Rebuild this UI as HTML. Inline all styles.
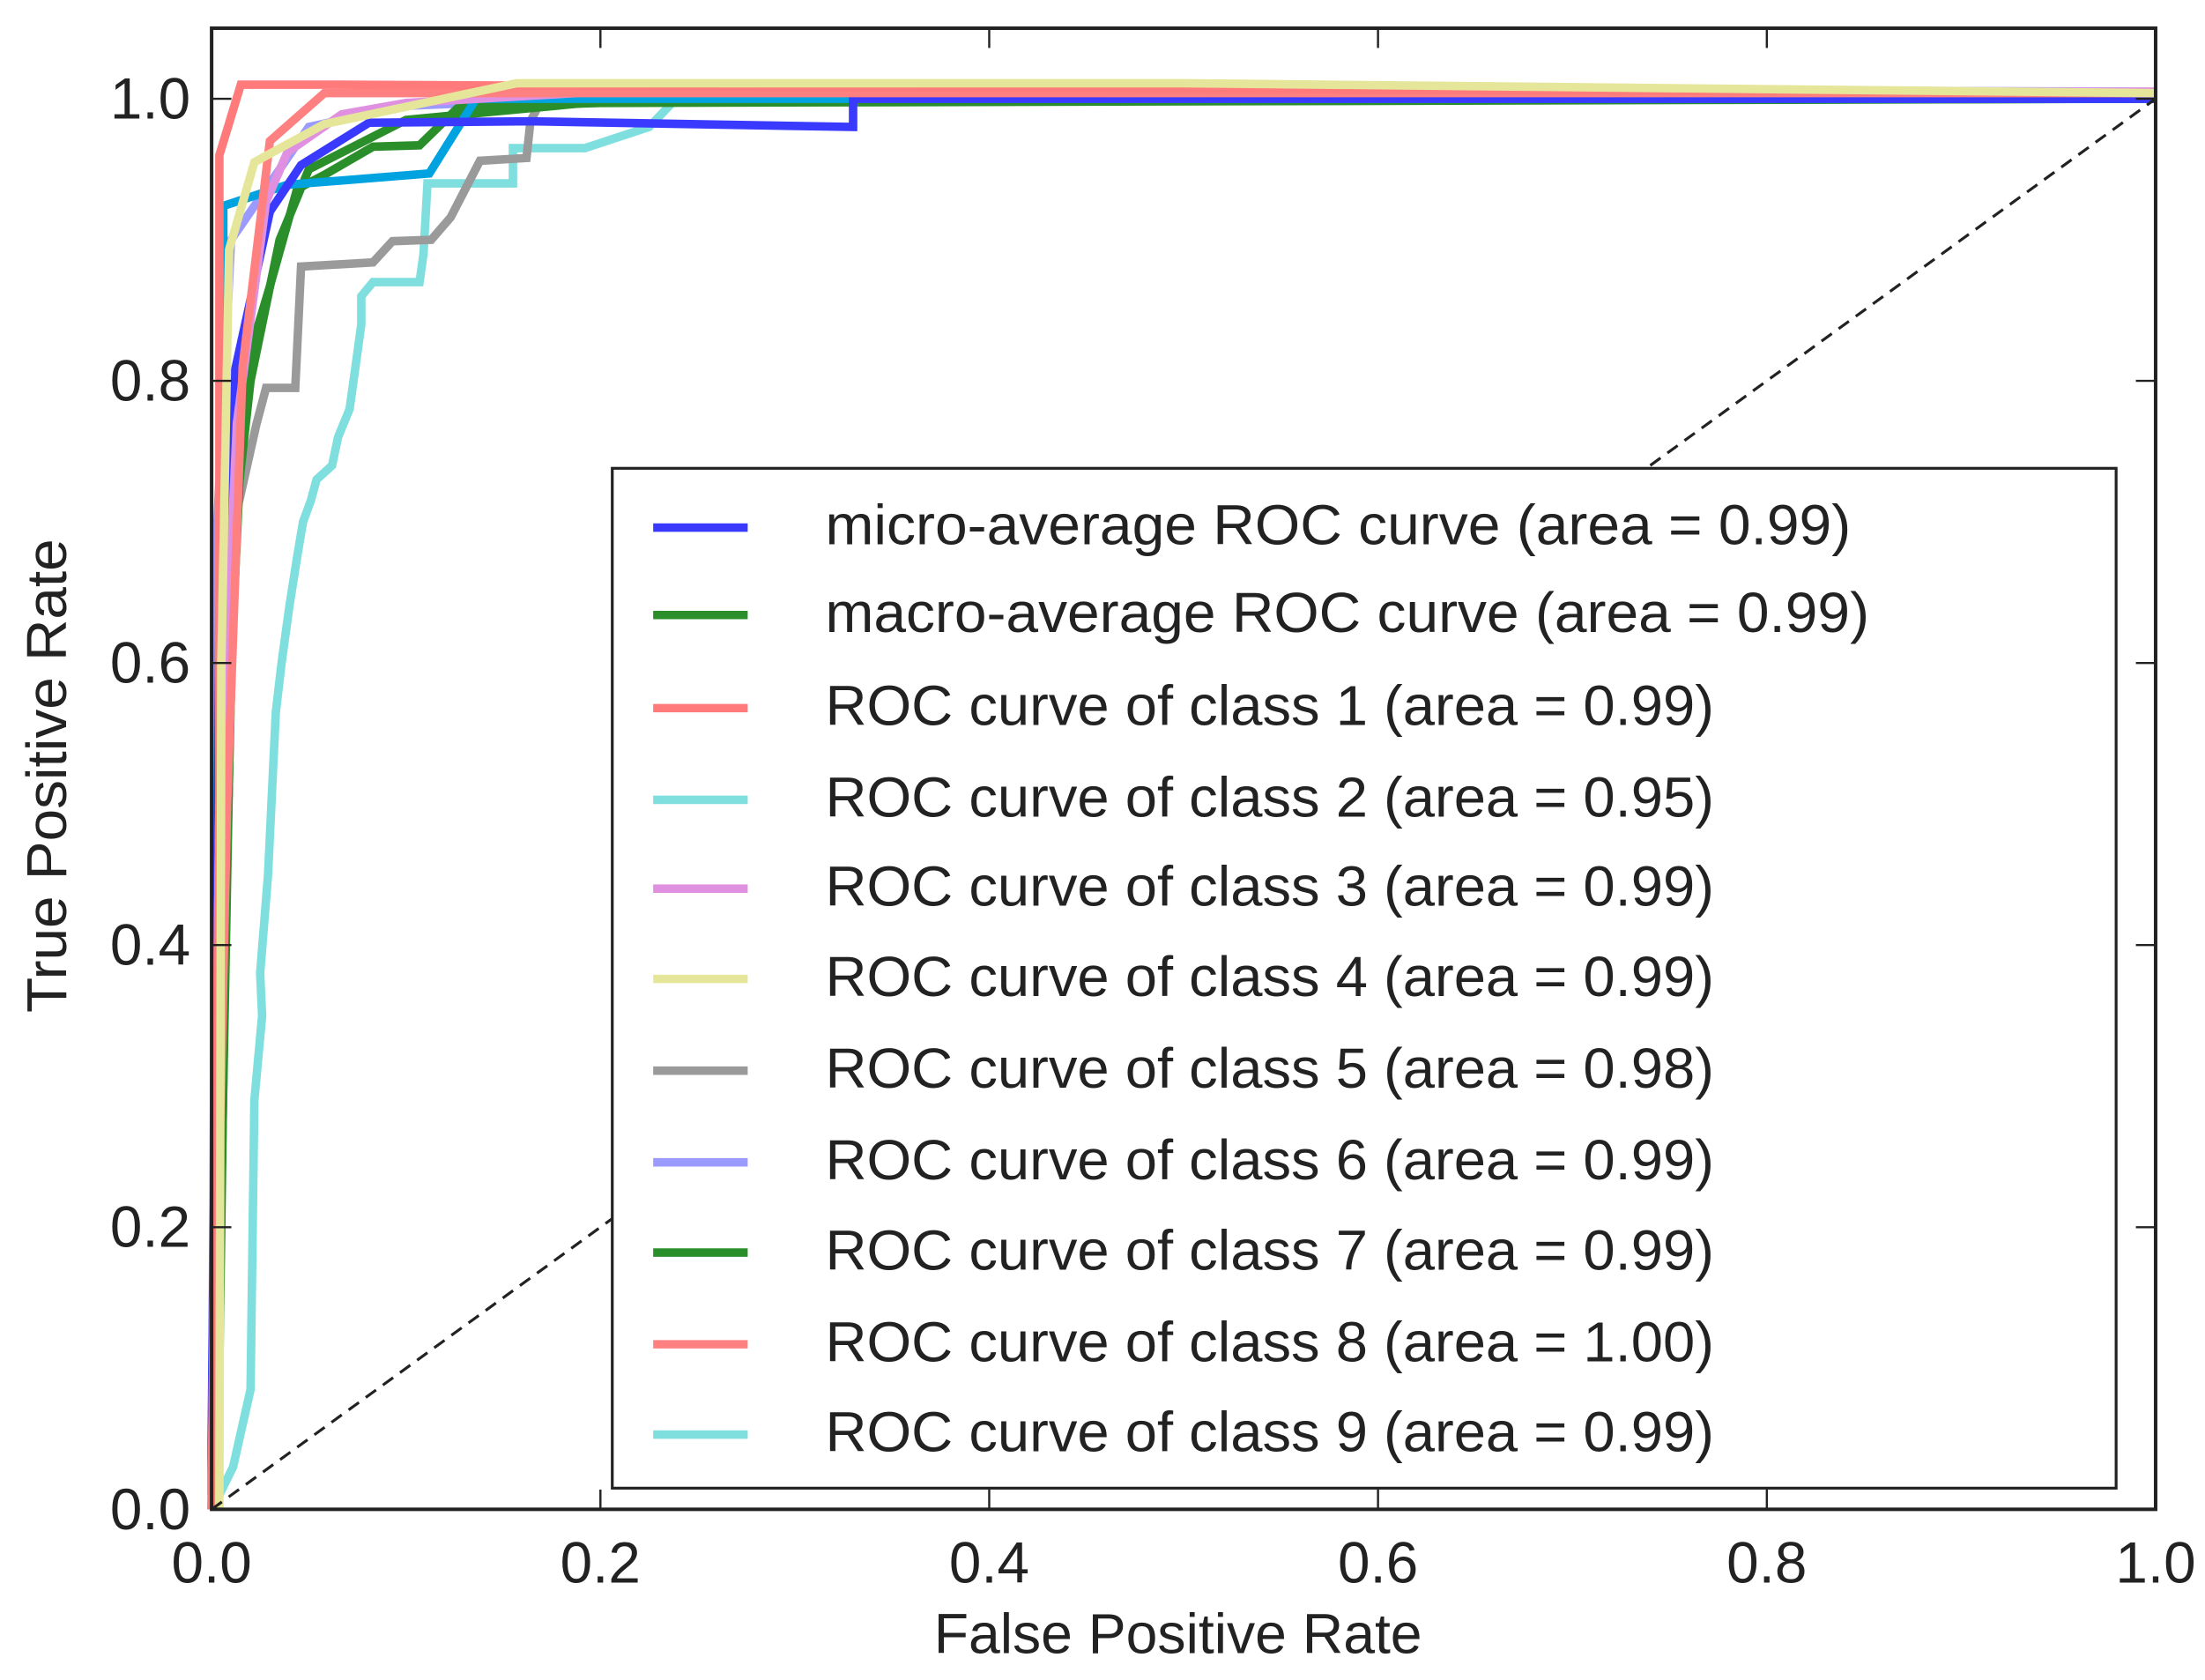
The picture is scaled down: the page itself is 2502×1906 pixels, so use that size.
<!DOCTYPE html>
<html><head><meta charset="utf-8">
<style>
html,body{margin:0;padding:0;background:#fff;}
svg{display:block;}
text{font-family:"Liberation Sans",sans-serif;fill:#222;}
</style></head>
<body>
<svg id="chart" width="2502" height="1906" viewBox="0 0 1563 1191" preserveAspectRatio="none" xmlns="http://www.w3.org/2000/svg">
<rect x="0" y="0" width="1563" height="1191" fill="#fff"/>
<g id="curves"></g>
<line id="diag" stroke="#222" stroke-width="2" stroke-dasharray="9,6"/>
<g id="axes"></g>
<g id="legend"></g>
<text x="835" y="1172" font-size="40" text-anchor="middle" textLength="346" lengthAdjust="spacingAndGlyphs">False Positive Rate</text>
<text x="0" y="0" font-size="40" text-anchor="middle" textLength="336" lengthAdjust="spacingAndGlyphs" transform="translate(47,550) rotate(-90)">True Positive Rate</text>
</svg>
<script>
const xTicks = [0.0, 0.2, 0.4, 0.6, 0.8, 1.0];
const yTicks = [0.0, 0.2, 0.4, 0.6, 0.8, 1.0];
const tickLabels = ["0.0", "0.2", "0.4", "0.6", "0.8", "1.0"];

const microX = [0, 0.0, 0.004, 0.012, 0.03, 0.046, 0.081, 0.164, 0.33, 0.33, 1];
const microY = [0.01, 0.05, 0.6, 0.807, 0.92, 0.953, 0.983, 0.984, 0.98, 1.0, 1.0];
const macroX = [0.002, 0.006, 0.01, 0.017, 0.03, 0.044, 0.058, 0.083, 0.107, 0.127, 0.2, 1];
const macroY = [0.0, 0.3, 0.6, 0.807, 0.867, 0.936, 0.946, 0.966, 0.967, 0.994, 0.997, 1.0];
const c1X = [0, 0.004, 0.004, 0.015, 0.06, 1];
const c1Y = [0, 0.5, 0.96, 1.01, 1.01, 1.004];
const c2X = [0.001, 0.011, 0.02, 0.022, 0.026, 0.025, 0.029, 0.033, 0.036, 0.04, 0.044, 0.047, 0.051, 0.054, 0.062, 0.065, 0.071, 0.073, 0.077, 0.077, 0.083, 0.107, 0.109, 0.111, 0.155, 0.155, 0.192, 0.225, 0.239, 1];
const c2Y = [0.002, 0.03, 0.085, 0.29, 0.35, 0.38, 0.45, 0.565, 0.6, 0.64, 0.675, 0.7, 0.715, 0.73, 0.74, 0.76, 0.78, 0.8, 0.84, 0.86, 0.87, 0.87, 0.89, 0.94, 0.94, 0.965, 0.965, 0.98, 1.0, 1.004];
const c3X = [0, 0.004, 0.013, 0.028, 0.039, 0.067, 0.1, 0.2, 1];
const c3Y = [0, 0.5, 0.77, 0.927, 0.962, 0.989, 0.997, 1.005, 1.005];
const c4X = [0.004, 0.005, 0.009, 0.022, 0.058, 0.157, 0.5, 1];
const c4Y = [0.0, 0.6, 0.893, 0.955, 0.982, 1.011, 1.011, 1.004];
const c5X = [0.003, 0.005, 0.015, 0.023, 0.028, 0.043, 0.046, 0.083, 0.093, 0.113, 0.123, 0.138, 0.162, 0.164, 0.17, 1];
const c5Y = [0.0, 0.66, 0.72, 0.769, 0.795, 0.795, 0.881, 0.884, 0.899, 0.9, 0.916, 0.956, 0.958, 0.984, 1.0, 1.0];
const c6X = [0, 0.003, 0.01, 0.05, 0.1, 0.33, 1];
const c6Y = [0, 0.7, 0.9, 0.98, 0.995, 1.008, 1.005];
const c7X = [0.003, 0.007, 0.012, 0.02, 0.035, 0.05, 0.1, 0.2, 1];
const c7Y = [0.0, 0.4, 0.7, 0.8, 0.9, 0.95, 0.985, 0.998, 1.0];
const c8X = [0, 0.008, 0.016, 0.03, 0.058, 1];
const c8Y = [0, 0.5, 0.81, 0.97, 1.004, 1.004];
const c9X = [0, 0.003, 0.006, 0.006, 0.039, 0.112, 0.136, 1];
const c9Y = [0, 0.5, 0.9, 0.924, 0.939, 0.947, 1.0, 1.0];

const legendLabels = [
 "micro-average ROC curve (area = 0.99)",
 "macro-average ROC curve (area = 0.99)",
 "ROC curve of class 1 (area = 0.99)",
 "ROC curve of class 2 (area = 0.95)",
 "ROC curve of class 3 (area = 0.99)",
 "ROC curve of class 4 (area = 0.99)",
 "ROC curve of class 5 (area = 0.98)",
 "ROC curve of class 6 (area = 0.99)",
 "ROC curve of class 7 (area = 0.99)",
 "ROC curve of class 8 (area = 1.00)",
 "ROC curve of class 9 (area = 0.99)"
];

const NS = "http://www.w3.org/2000/svg";
const L = 150, R = 1528, Y0 = 1070, Y1 = 70, TOP = 20;
function sx(v){ return L + v * (R - L); }
function sy(v){ return Y0 - v * (Y0 - Y1); }
function mk(tag, attrs, parent){
  const e = document.createElementNS(NS, tag);
  for (const k in attrs) e.setAttribute(k, attrs[k]);
  parent.appendChild(e);
  return e;
}

const curves = document.getElementById('curves');
const series = [
 [c2X, c2Y, "#7fdede", "curve-class-2"],
 [c5X, c5Y, "#9a9a9a", "curve-class-5"],
 [c6X, c6Y, "#9a9aff", "curve-class-6"],
 [c7X, c7Y, "#2a8f2a", "curve-class-7"],
 [macroX, macroY, "#2a8f2a", "curve-macro-average"],
 [c9X, c9Y, "#00a3e0", "curve-class-9"],
 [microX, microY, "#3a3aff", "curve-micro-average"],
 [c3X, c3Y, "#e090e0", "curve-class-3"],
 [c8X, c8Y, "#ff8080", "curve-class-8"],
 [c1X, c1Y, "#ff7b7b", "curve-class-1"],
 [c4X, c4Y, "#e6e69a", "curve-class-4"]
];
series.forEach(s => {
  const pts = s[0].map((x, i) => sx(x).toFixed(1) + "," + sy(s[1][i]).toFixed(1)).join(" ");
  const pl = mk('polyline', {points: pts, fill: "none", stroke: s[2], "stroke-width": 6, "stroke-linejoin": "miter"}, curves);
  
  
});

const diag = document.getElementById('diag');
diag.setAttribute('x1', sx(0)); diag.setAttribute('y1', sy(0));
diag.setAttribute('x2', sx(1)); diag.setAttribute('y2', sy(1));

const axes = document.getElementById('axes');
const frame = mk('rect', {x: L, y: TOP, width: R - L, height: Y0 - TOP, fill: "none", stroke: "#222", "stroke-width": 2.5}, axes);


xTicks.forEach((v, i) => {
  const x = sx(v);
  mk('line', {x1: x, y1: Y0, x2: x, y2: Y0 - 14, stroke: "#222", "stroke-width": 1.5}, axes);
  mk('line', {x1: x, y1: TOP, x2: x, y2: TOP + 14, stroke: "#222", "stroke-width": 1.5}, axes);
  const t = mk('text', {x: x, y: 1122, "font-size": 41, "text-anchor": "middle"}, axes);
  t.textContent = tickLabels[i];
  
  
});
yTicks.forEach((v, i) => {
  const y = sy(v);
  mk('line', {x1: L, y1: y, x2: L + 14, y2: y, stroke: "#222", "stroke-width": 1.5}, axes);
  mk('line', {x1: R, y1: y, x2: R - 14, y2: y, stroke: "#222", "stroke-width": 1.5}, axes);
  const t = mk('text', {x: 135, y: y + 14, "font-size": 41, "text-anchor": "end"}, axes);
  t.textContent = tickLabels[i];
  
  
});

const legend = document.getElementById('legend');
const box = mk('rect', {x: 434, y: 332, width: 1066, height: 723, fill: "#fff", stroke: "#222", "stroke-width": 2}, legend);


const legendColors = ["#3a3aff", "#2a8f2a", "#ff7b7b", "#7fdede", "#e090e0", "#e6e69a", "#9a9a9a", "#9a9aff", "#2a8f2a", "#ff8080", "#7fdede"];
const rowY = [372, 434, 500, 565, 628, 692, 757, 822, 886, 951, 1015];
const rowW = [727, 740, 630, 630, 630, 630, 630, 630, 630, 630, 630];
legendLabels.forEach((lab, i) => {
  const y = rowY[i];
  const g = mk('g', {}, legend);
  
  
  mk('line', {x1: 463, y1: y + 2, x2: 530, y2: y + 2, stroke: legendColors[i], "stroke-width": 6}, g);
  const t = mk('text', {x: 585, y: y + 14, "font-size": 40, textLength: rowW[i], lengthAdjust: "spacingAndGlyphs"}, g);
  t.textContent = lab;
});
</script>
</body></html>
